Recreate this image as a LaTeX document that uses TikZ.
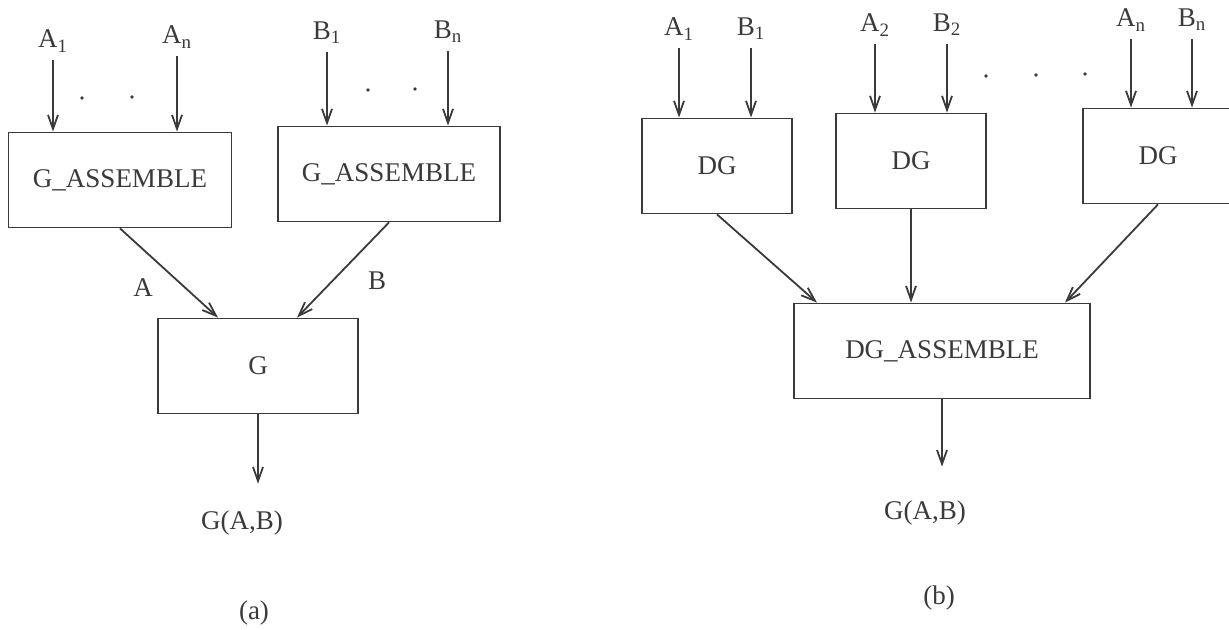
\documentclass[tikz,border=0pt]{standalone}
\usepackage{fontspec}
\setmainfont{Liberation Serif}
\usepackage{xcolor}
\definecolor{scanInk}{HTML}{3A3A3A}
\usetikzlibrary{arrows.meta,calc}

\begin{document}
\begin{tikzpicture}[x=0.5pt, y=-0.5pt, >={Straight Barb[length=7pt,width=5pt]},
    font=\fontsize{13.5}{16}\selectfont, color=scanInk,
    box/.style={draw, line width=0.9pt, inner sep=0pt, minimum height=47.5pt},
    inlab/.style={inner sep=4pt},
    flow/.style={->, line width=0.9pt}]
  \useasboundingbox (0,0) rectangle (1229,630);
  \clip (0,0) rectangle (1229,630);
  % ---- (a) two assemblies feeding G ----
  \node[box, minimum width=111.5pt] (ga1) at (120,180) {G\_ASSEMBLE};
  \node[box, minimum width=111pt] (ga2) at (389,174) {G\_ASSEMBLE};
  \node[box, minimum width=100pt] (g) at (258,366) {G};
  \node[inlab] (a1) at (53,41) {A\textsubscript{1}};
  \node[inlab] (an) at (177,37) {A\textsubscript{n}};
  \node[inlab] (b1) at (327,33) {B\textsubscript{1}};
  \node[inlab] (bn) at (448,32) {B\textsubscript{n}};
  \foreach \s/\t in {a1/ga1, an/ga1, b1/ga2, bn/ga2}
    \draw[flow] (\s) -- (\s |- \t.north);
  \foreach \p in {(82,98), (132,97), (368,90), (415,89)}
    \fill \p circle (0.9pt);
  \draw[flow] (ga1.south) -- ($(g.north)+(-40,0)$);
  \draw[flow] (ga2.south) -- ($(g.north)+(39,0)$);
  \node (la) at (143,288) {A};
  \node (lb) at (377,281) {B};
  \node (gab) at (242,523) {G(A,B)};
  \draw[flow, shorten >=10pt] (g.south) -- (g.south |- gab.north);
  \node (capa) at (254,613) {(a)};
  % ---- (b) one DG per pair, then DG_ASSEMBLE ----
  \foreach \n/\x/\y in {1/717/166, 2/911/161, n/1158/156}
    \node[box, minimum width=75pt] (dg\n) at (\x,\y) {DG};
  \node[box, minimum width=148pt] (dga) at (942,351) {DG\_ASSEMBLE};
  \foreach \n/\xa/\xb/\y in {1/679/751/29, 2/875/947/25, n/1131/1192/20} {
    \node[inlab] (a\n b) at (\xa,\y) {A\textsubscript{\n}};
    \node[inlab] (b\n b) at (\xb,\y) {B\textsubscript{\n}};
    \draw[flow] (a\n b) -- (a\n b |- dg\n.north);
    \draw[flow] (b\n b) -- (b\n b |- dg\n.north);
  }
  \foreach \p in {(986,76), (1036,75), (1085,74)}
    \fill \p circle (0.9pt);
  \draw[flow] (dg1.south) -- ($(dga.north)+(-125,0)$);
  \draw[flow] (dg2.south) -- (dg2.south |- dga.north);
  \draw[flow] (dgn.south) -- ($(dga.north)+(123,0)$);
  \node (gabb) at (925,513) {G(A,B)};
  \draw[flow, shorten >=13.5pt] (dga.south) -- (dga.south |- gabb.north);
  \node (capb) at (939,598) {(b)};
\end{tikzpicture}
\end{document}
